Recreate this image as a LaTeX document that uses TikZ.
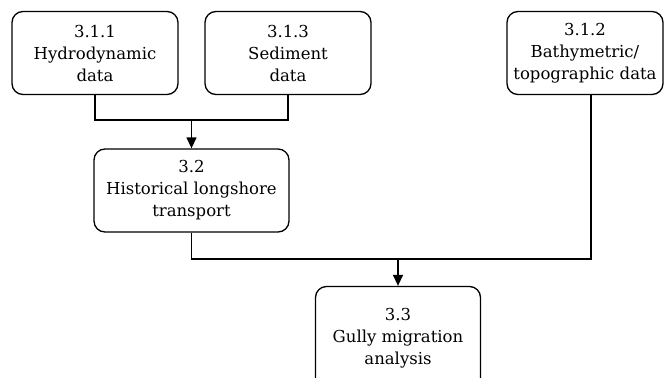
\documentclass[tikz,border=0pt]{standalone}
\usepackage{fontspec}
\setmainfont{DejaVu Serif}
\usetikzlibrary{arrows.meta,positioning,calc}
\newcommand{\fwdslash}{/}

\begin{document}
\begin{tikzpicture}[x=1pt,y=-1pt,
    box/.style={draw,line width=1.3pt,rounded corners=11pt,align=center,
      font=\fontsize{16.5}{22}\selectfont,minimum height=83pt,inner sep=1pt},
    link/.style={line width=1.3pt},
    arrow/.style={link,-{Triangle[length=11pt,width=10pt]}}]
    \useasboundingbox (0,0) rectangle (665,378);
    \foreach \n/\x/\y/\w/\t in {
      hydro/95/53/166/3.1.1\\Hydrodynamic\\data,
      sed/288/53/166/3.1.3\\Sediment\\data,
      bathy/585/53/156/3.1.2\\Bathymetric\fwdslash\\topographic data,
      hist/191.5/190.5/195/3.2\\Historical longshore\\transport}
    {
      \node[box,minimum width=\w pt] (\n) at (\x,\y) {\t};
    }
    \node[box,minimum width=165pt,minimum height=103pt] (gully) at (398,338) {3.3\\Gully migration\\analysis};
    % joins
    \coordinate (m1) at (191.5,120);
    \coordinate (m2) at (398,259);
    \draw[link] (hydro.south) |- (m1) -| (sed.south);
    \draw[arrow] (m1) -- (hist.north);
    \draw[link] (hist.south) |- (m2) -| ([xshift=6pt]bathy.south);
    \draw[arrow] (m2) -- (gully.north);
  \end{tikzpicture}
\end{document}
